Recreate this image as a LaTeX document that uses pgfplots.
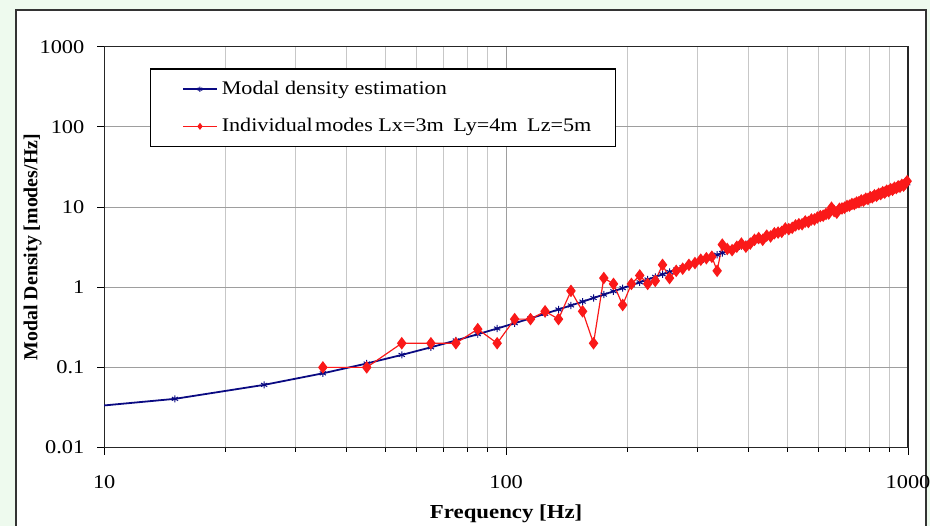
\documentclass[border=0pt]{standalone}
\usepackage{fontspec}
\setmainfont{Liberation Serif}[FakeStretch=1.15]
\newfontfamily\ylabfont{Liberation Serif}
\usepackage{pgfplots}
\pgfplotsset{compat=1.18}
\definecolor{bgGreen}{RGB}{238,250,238}
\definecolor{navyline}{RGB}{10,10,130}
\definecolor{redline}{RGB}{250,25,25}
\begin{document}
\begin{tikzpicture}
\fill[bgGreen] (-52.5pt,-39.5pt) rectangle (416pt,225.5pt);
\fill[white] (-44.5pt,-39.5pt) rectangle (414pt,220.5pt);
\draw[black!80, line width=0.7pt] (-44.5pt,-39.5pt) -- (-44.5pt,220.5pt) -- (414pt,220.5pt) -- (414pt,-39.5pt);
\begin{axis}[
  at={(0,0)}, anchor=south west, scale only axis,
  width=405pt, height=202pt,
  xmode=log, ymode=log,
  xmin=10, xmax=1000, ymin=0.01, ymax=1000,
  xtick={10,100,1000}, xticklabels={10,100,1000},
  ytick={0.01,0.1,1,10,100,1000},
  yticklabels={0.01,0.1,1,10,100,1000},
  yminorticks=false,
  xmajorgrids=true, xminorgrids=true, ymajorgrids=true,
  major grid style={black!38, line width=0.5pt},
  minor grid style={black!22, line width=0.5pt},
  axis line style={black!85, line width=0.6pt},
  tick pos=left, tick align=outside,
  major tick length=3.5pt, minor tick length=2pt,
  tick style={black, line width=0.5pt},
  ticklabel style={font=\fontsize{9.8}{11.5}\selectfont},
  xticklabel style={yshift=-7pt},
  yticklabel style={xshift=-3pt},
  xlabel={\bfseries Frequency [Hz]},
  ylabel={\ylabfont\bfseries Modal Density [modes/Hz]},
  label style={font=\fontsize{10}{12}\selectfont},
  xlabel style={at={(axis description cs:0.5,-0.166)}, anchor=center},
  ylabel style={at={(axis description cs:-0.089,0.5)}, anchor=center},
  legend cell align=left,
  legend image code/.code={\path (0cm,0cm); \draw[mark repeat=2,mark phase=2,#1,mark size=1.3pt] plot coordinates {(0.21cm,0cm) (0.51cm,0cm) (0.81cm,0cm)};},
  legend style={at={(0.0568,0.9455)}, anchor=north west, draw=black, line width=0.6pt,
    fill=white, font=\fontsize{9.7}{11.5}\selectfont, row sep=6.5pt,
    inner xsep=10pt, inner ysep=4pt},
]
\addplot[navyline, line width=0.9pt, mark=asterisk, mark size=1.8pt, mark options={line width=0.5pt}] coordinates {
(5,0.02424) (15,0.04053) (25,0.06055) (35,0.08431) (45,0.11181) (55,0.14304) (65,0.17802) (75,0.21672) (85,0.25917) (95,0.30535)
(105,0.35527) (115,0.40892) (125,0.46631) (135,0.52744) (145,0.59231) (155,0.66091) (165,0.73325) (175,0.80932) (185,0.88914) (195,0.97268)
(205,1.05997) (215,1.15099) (225,1.24575) (235,1.34425) (245,1.44648) (255,1.55245) (265,1.66216) (275,1.77560) (285,1.89278) (295,2.01370)
(305,2.13835) (315,2.26675) (325,2.39887) (335,2.53474) (345,2.67434) (355,2.81768) (365,2.96475) (375,3.11556) (385,3.27011) (395,3.42840)
(405,3.59042) (415,3.75618) (425,3.92567) (435,4.09891) (445,4.27587) (455,4.45658) (465,4.64102) (475,4.82920) (485,5.02112) (495,5.21677)
(505,5.41616) (515,5.61929) (525,5.82615) (535,6.03675) (545,6.25109) (555,6.46916) (565,6.69098) (575,6.91652) (585,7.14581) (595,7.37883)
(605,7.61559) (615,7.85608) (625,8.10031) (635,8.34828) (645,8.59999) (655,8.85543) (665,9.11461) (675,9.37752) (685,9.64418) (695,9.91456)
(705,10.1887) (715,10.4666) (725,10.7482) (735,11.0335) (745,11.3226) (755,11.6154) (765,11.9119) (775,12.2122) (785,12.5162) (795,12.8240)
(805,13.1355) (815,13.4507) (825,13.7697) (835,14.0924) (845,14.4188) (855,14.7490) (865,15.0829) (875,15.4206) (885,15.7619) (895,16.1071)
(905,16.4559) (915,16.8085) (925,17.1649) (935,17.5249) (945,17.8888) (955,18.2563) (965,18.6276) (975,19.0026) (985,19.3814) (995,19.7638)
};
\addlegendentry{Modal density estimation}
\addplot[redline, line width=0.6pt, mark=diamond*, mark size=2.7pt, mark options={fill=redline, draw=redline}] coordinates {
(35,0.1) (45,0.1) (55,0.2) (65,0.2) (75,0.2) (85,0.3) (95,0.2) (105,0.4) (115,0.4) (125,0.5)
(135,0.4) (145,0.9) (155,0.5) (165,0.2) (175,1.3) (185,1.1) (195,0.6) (205,1.1) (215,1.4) (225,1.1)
(235,1.2) (245,1.9) (255,1.3) (265,1.6) (275,1.7) (285,1.9) (295,2.0) (305,2.2) (315,2.3) (325,2.4)
(335,1.6) (345,3.4) (355,3.0) (365,2.9) (375,3.2) (385,3.5) (395,3.2) (405,3.5) (415,3.9) (425,4.1)
(435,3.9) (445,4.4) (455,4.3) (465,4.7) (475,4.8) (485,4.9) (495,5.4) (505,5.3) (515,5.5) (525,5.9)
(535,6.1) (545,6.1) (555,6.6) (565,6.5) (575,7.0) (585,7.0) (595,7.4) (605,7.7) (615,7.8) (625,8.2)
(635,8.3) (645,9.8) (655,8.9) (665,8.5) (675,9.5) (685,9.6) (695,9.8) (705,10.3) (715,10.4) (725,10.9)
(735,10.9) (745,11.4) (755,11.5) (765,12.1) (775,12.0) (785,12.7) (795,12.6) (805,13.3) (815,13.2) (825,14.0)
(835,13.8) (845,14.6) (855,14.5) (865,15.3) (875,15.1) (885,16.0) (895,15.8) (905,16.7) (915,16.4) (925,17.4)
(935,17.2) (945,18.1) (955,17.9) (965,18.9) (975,18.5) (985,19.7) (995,21.0)
};
\addlegendentry{Individual\hspace{0.12em}modes Lx=3m\enspace Ly=4m\enspace Lz=5m}
\end{axis}
\end{tikzpicture}
\end{document}
